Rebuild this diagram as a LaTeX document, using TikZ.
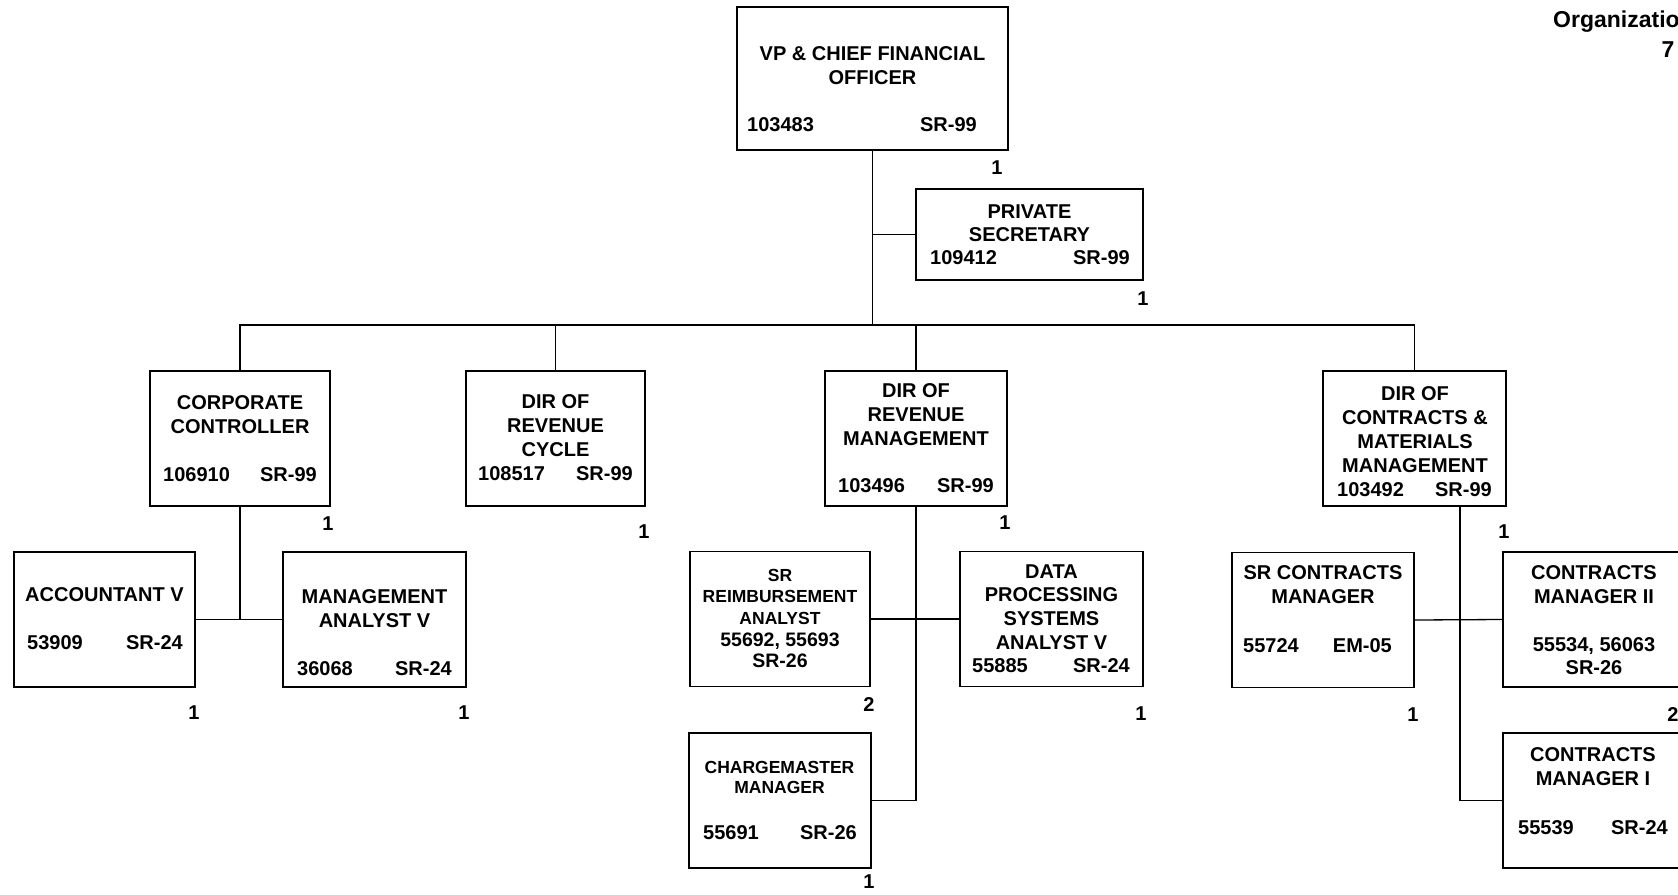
\documentclass[tikz,border=0pt]{standalone}
\usepackage{fontspec}
\setmainfont{Liberation Sans}
\tikzset{
  box/.style= {draw, line width=1.8pt, inner sep=0, minimum width=182, minimum height=135},
  ttl/.style= {font=\fontsize{20}{24}\selectfont\bfseries, align=center, inner sep=0},
  sml/.style= {font=\fontsize{17.5}{20.5}\selectfont\bfseries, align=center, inner sep=0},
  num/.style= {font=\fontsize{20}{24}\selectfont\bfseries, inner sep=0},
  link/.style= {line width=1.3pt},
}
\begin{document}
\begin{tikzpicture}[x=1pt, y=-1pt]
  \useasboundingbox (0,0) rectangle (1678,894);
  \clip (0,0) rectangle (1678,894);
  \fill [white] (0,0) rectangle (1678,894);

  \node [num, font=\fontsize{23}{27}\selectfont\bfseries, anchor=west] (hdr) at (1553,22) {Organizatio};
  \node [num, font=\fontsize{23}{27}\selectfont\bfseries] (pg) at (1668,50) {7};

  % top
  \node [box, minimum width=271, minimum height=143] (vp) at (872.5,78.5) {};
  \node [ttl] (vpt) at (872.5,66) {VP \& CHIEF FINANCIAL\\OFFICER};
  \node [num, anchor=west] (vpn) at (747,125) {103483};
  \node [num, anchor=east] (vpg) at (977,125) {SR-99};
  \node [num] (vpc) at (997,168) {1};

  \node [box, minimum width=227, minimum height=91] (ps) at (1029.5,234.5) {};
  \node [ttl, font=\fontsize{20}{23}\selectfont\bfseries] (pst) at (1029.5,223.5) {PRIVATE\\SECRETARY};
  \node [num, anchor=west] (psn) at (930,258) {109412};
  \node [num, anchor=east] (psg) at (1130,258) {SR-99};
  \node [num] (psc) at (1143,299) {1};

  % directors
  \node [box, minimum width=180] (cc) at (240,438.5) {};
  \node [ttl] (cct) at (240,415) {CORPORATE\\CONTROLLER};
  \node [num, anchor=west] (ccn) at (163,475) {106910};
  \node [num, anchor=east] (ccg) at (317,475) {SR-99};
  \node [num] (ccc) at (328,524) {1};

  \node [box, minimum width=179] (drc) at (555.5,438.5) {};
  \node [ttl] (drct) at (555.5,425.5) {DIR OF\\REVENUE\\CYCLE};
  \node [num, anchor=west] (drcn) at (478,474) {108517};
  \node [num, anchor=east] (drcg) at (633,474) {SR-99};
  \node [num] (drcc) at (644,532) {1};

  \node [box] (drm) at (916,438.5) {};
  \node [ttl] (drmt) at (916,414.5) {DIR OF\\REVENUE\\MANAGEMENT};
  \node [num, anchor=west] (drmn) at (838,486) {103496};
  \node [num, anchor=east] (drmg) at (994,486) {SR-99};
  \node [num] (drmc) at (1005,523) {1};

  \node [box, minimum width=183] (dcm) at (1414.5,438.5) {};
  \node [ttl] (dcmt) at (1415,429.5) {DIR OF\\CONTRACTS \&\\MATERIALS\\MANAGEMENT};
  \node [num, anchor=west] (dcmn) at (1337,490) {103492};
  \node [num, anchor=east] (dcmg) at (1492,490) {SR-99};
  \node [num] (dcmc) at (1504,532) {1};

  % staff
  \node [box, minimum width=181] (acc) at (104.5,619.5) {};
  \node [ttl] (acct) at (104.5,595) {ACCOUNTANT V};
  \node [num, anchor=west] (accn) at (27,643) {53909};
  \node [num, anchor=east] (accg) at (183,643) {SR-24};
  \node [num] (accc) at (194,713) {1};

  \node [box, minimum width=183] (ma) at (374.5,619.5) {};
  \node [ttl] (mat) at (374.5,608.5) {MANAGEMENT\\ANALYST V};
  \node [num, anchor=west] (man) at (297,669) {36068};
  \node [num, anchor=east] (mag) at (452,669) {SR-24};
  \node [num] (mac) at (464,713) {1};

  \node [box, minimum width=180] (sra) at (780,619) {};
  \node [sml, font=\fontsize{17.5}{21.7}\selectfont\bfseries] (srat) at (780,618.5) {SR\\REIMBURSEMENT\\ANALYST\\{\fontsize{19.5}{21.7}\selectfont 55692, 55693}\\{\fontsize{19.5}{21.7}\selectfont SR-26}};
  \node [num] (srac) at (869,705) {2};

  \node [box, minimum width=183] (dp) at (1051.5,619) {};
  \node [ttl, font=\fontsize{20}{23.7}\selectfont\bfseries] (dpt) at (1051.5,607) {DATA\\PROCESSING\\SYSTEMS\\ANALYST V};
  \node [num, anchor=west] (dpn) at (972,666) {55885};
  \node [num, anchor=east] (dpg) at (1130,666) {SR-24};
  \node [num] (dpc) at (1141,714) {1};

  \node [box] (cm) at (780,800.5) {};
  \node [sml, font=\fontsize{17.5}{20}\selectfont\bfseries] (cmt) at (779.5,777) {CHARGEMASTER\\MANAGER};
  \node [num, anchor=west] (cmn) at (703,833) {55691};
  \node [num, anchor=east] (cmg) at (857,833) {SR-26};
  \node [num] (cmc) at (869,882) {1};

  \node [box] (src) at (1323,620) {};
  \node [ttl] (srct) at (1323,585) {SR CONTRACTS\\MANAGER};
  \node [num, anchor=west] (srcn) at (1243,646) {55724};
  \node [num, anchor=east] (srcg) at (1392,646) {EM-05};
  \node [num] (srcc) at (1413,715) {1};

  \node [box, minimum width=183] (cm2) at (1594.5,619.5) {};
  \node [ttl] (cm2t) at (1594,585) {CONTRACTS\\MANAGER II};
  \node [ttl, font=\fontsize{20}{23}\selectfont\bfseries] (cm2n) at (1594,656.5) {55534, 56063\\SR-26};
  \node [num] (cm2c) at (1673,715) {2};

  \node [box, minimum width=183] (cm1) at (1594.5,800.5) {};
  \node [ttl] (cm1t) at (1593,766.5) {CONTRACTS\\MANAGER I};
  \node [num, anchor=west] (cm1n) at (1518,828) {55539};
  \node [num, anchor=east] (cm1g) at (1668,828) {SR-24};

  % lines
  \coordinate (bus) at (872.5,325);
  \coordinate (dcmb) at (1460,506);
  \draw [link] (vp) -- (bus);
  \draw [link] (ps.west) -- (ps.west -| vp.south);
  \draw [link] (cc.north) |- (bus) -| (dcm.north);
  \draw [link] (drc.north) -- (drc.north |- bus);
  \draw [link] (drm.north) -- (drm.north |- bus);
  \draw [link] (cc) -- (cc.south |- acc.east);
  \draw [link] (acc.east) -- (ma.west);
  \draw [link] (drm.south) |- (cm.east);
  \draw [link] (sra.east) -- (dp.west);
  \draw [link] (dcmb) |- (cm1.west);
  \draw [link] (src.east) -- (cm2.west);
\end{tikzpicture}
\end{document}
